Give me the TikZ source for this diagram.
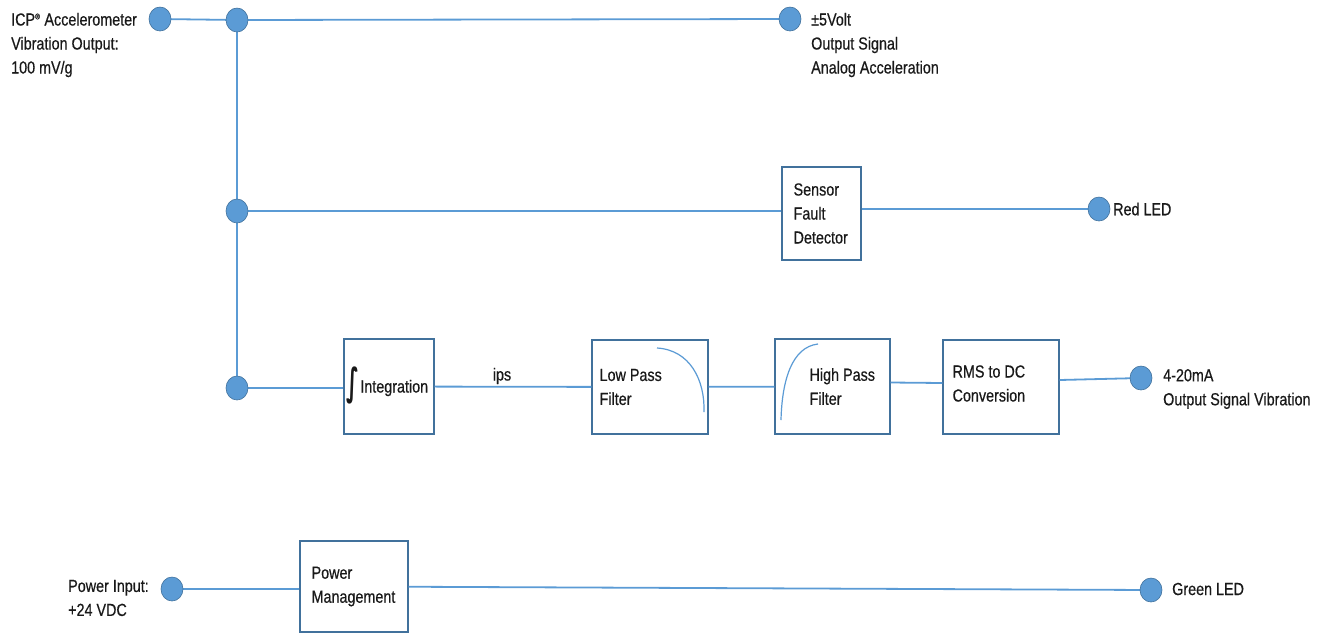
\documentclass[tikz,border=0pt]{standalone}
\usepackage{fontspec}
\usepackage{graphicx}
\setmainfont{Liberation Sans}[FakeStretch=0.82,FakeBold=0.5]
\newfontfamily\symfont{DejaVu Sans}
\usetikzlibrary{calc}
\definecolor{wirec}{HTML}{5B9BD5}
\definecolor{edgec}{HTML}{41719C}
\begin{document}
\begin{tikzpicture}[x=1pt,y=-1pt,
  wire/.style={draw=wirec, line width=1.8pt},
  curve/.style={draw=wirec, line width=1.2pt},
  dotc/.style={fill=wirec, draw=edgec, line width=0.6pt},
  dot/.style={circle, minimum size=22pt, inner sep=0pt},
  box/.style={rectangle, draw=edgec, line width=1.2pt, fill=white, inner sep=0pt},
  lbl/.style={font=\fontsize{17.5}{24}\selectfont, align=left, inner sep=0pt, text=black!90}
]
\useasboundingbox (0,0) rectangle (1328,633);

% dots (named anchors)
\node[dot] (din)  at (160,19) {};
\node[dot] (dj1)  at (237,20) {};
\node[dot] (dout) at (790,19) {};
\node[dot] (dj2)  at (237,211) {};
\node[dot] (dred) at (1099,209) {};
\node[dot] (dj3)  at (237,388) {};
\node[dot] (dma)  at (1141,378) {};
\node[dot] (dpw)  at (172,589) {};
\node[dot] (dgr)  at (1151,590) {};

% boxes
\node[box, minimum width=79pt,  minimum height=93pt] (sfd) at (821.5,213.5) {};
\node[box, minimum width=90pt,  minimum height=95pt] (int) at (389,386.5) {};
\node[box, minimum width=116pt, minimum height=94pt] (lp)  at (650,387) {};
\node[box, minimum width=115pt, minimum height=95pt] (hp)  at (832.5,386.5) {};
\node[box, minimum width=116pt, minimum height=94pt] (rms) at (1001,387) {};
\node[box, minimum width=108pt, minimum height=91pt] (pm)  at (354,586.5) {};

% connectors
\draw[wire] (din.center) -- (dj1.center) -- (dout.center);
\draw[wire] (dj1.center) -- (dj2.center) -- (dj3.center);
\draw[wire] (dj2.center) -- (dj2.center -| sfd.west);
\draw[wire] (sfd.east |- dred) -- (dred.center);
\draw[wire] (dj3.center) -- (dj3.center -| int.west);
\draw[wire] (int) -- (lp);
\draw[wire] (lp) -- (hp);
\draw[wire] ([yshift=4pt]hp.east) -- ([yshift=4pt]rms.west);
\draw[wire] ([yshift=7pt]rms.east) -- (dma.center);
\draw[wire] (dpw.center) -- (pm.west |- dpw);
\draw[wire] (pm) -- (dgr.center);

% dots drawn on top of wires
\foreach \d in {din,dj1,dout,dj2,dred,dj3,dma,dpw,dgr}
  \path[dotc] (\d.center) ellipse (11pt and 12pt);

% filter curves
\draw[curve] (657,348) .. controls (690,350) and (705,380) .. (704,412);
\draw[curve] (781,420) .. controls (782,380) and (792,347) .. (818,344);

% box texts
\node[lbl, anchor=west] (tint) at ([xshift=3pt,yshift=1pt]int.west) {\raisebox{-3pt}{\scalebox{0.55}[1]{\symfont\bfseries\fontsize{38}{38}\selectfont ∫}}\kern1pt Integration};
\node[lbl, anchor=west] (tsfd) at ([xshift=12pt]sfd.west) {Sensor\\Fault\\Detector};
\node[lbl, anchor=west] (tlp)  at ([xshift=8pt]lp.west) {Low Pass\\Filter};
\node[lbl, anchor=west] (thp)  at ([xshift=35pt]hp.west) {High Pass\\Filter};
\node[lbl, anchor=west] (trms) at ([xshift=10pt,yshift=3.5pt]rms.west) {RMS to DC\\Conversion};
\node[lbl, anchor=west] (tpm)  at ([xshift=12pt]pm.west) {Power\\Management};

% free texts
\node[lbl, anchor=west] (tin)  at (11,45) {ICP\textsuperscript{\fontsize{8}{8}\selectfont ®} Accelerometer\\Vibration Output:\\100 mV/g};
\node[lbl, anchor=west] (tout) at (811,45) {±5Volt\\Output Signal\\Analog Acceleration};
\node[lbl, anchor=west] (tred) at (1113,209) {Red LED};
\node[lbl, anchor=west] (tma)  at (1163,389) {4-20mA\\Output Signal Vibration};
\node[lbl, anchor=west] (tpw)  at (68,598) {Power Input:\\+24 VDC};
\node[lbl, anchor=west] (tgr)  at (1172,589) {Green LED};
\node[lbl] (tips) at (502,376) {ips};
\end{tikzpicture}
\end{document}
